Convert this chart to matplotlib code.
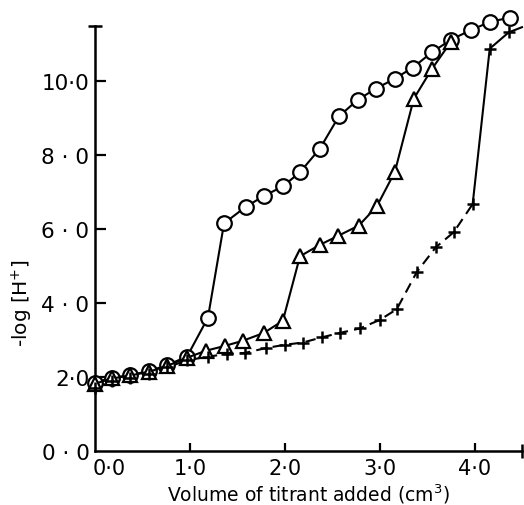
import matplotlib.pyplot as plt
from matplotlib.transforms import ScaledTranslation

# volume of titrant (cm3) against -log[H+]
vol_circ = [0.0, 0.18, 0.37, 0.57, 0.76, 0.97, 1.19, 1.36, 1.59, 1.78, 1.98, 2.16,
            2.37, 2.57, 2.77, 2.96, 3.16, 3.35, 3.55, 3.75, 3.96, 4.16, 4.37]
ph_circ = [1.85, 1.98, 2.05, 2.16, 2.32, 2.55, 3.6, 6.15, 6.6, 6.89, 7.15, 7.53,
           8.17, 9.04, 9.49, 9.79, 10.06, 10.36, 10.77, 11.11, 11.37, 11.59, 11.71]

vol_tri = [0.0, 0.18, 0.37, 0.57, 0.76, 0.97, 1.17, 1.37, 1.56, 1.78, 1.98, 2.16,
           2.37, 2.56, 2.78, 2.97, 3.16, 3.36, 3.55, 3.75]
ph_tri = [1.82, 1.96, 2.04, 2.14, 2.3, 2.52, 2.71, 2.84, 2.98, 3.19, 3.52, 5.26,
          5.57, 5.81, 6.09, 6.61, 7.54, 9.52, 10.32, 11.05]

vol_cross = [0.0, 0.18, 0.37, 0.57, 0.76, 0.97, 1.19, 1.39, 1.58, 1.8, 2.0, 2.19,
             2.39, 2.58, 2.79, 3.0, 3.18, 3.39, 3.59, 3.78, 3.98, 4.16, 4.36, 4.5]
ph_cross = [1.7, 1.9, 1.98, 2.08, 2.26, 2.45, 2.55, 2.62, 2.65, 2.78, 2.87, 2.93,
            3.07, 3.19, 3.31, 3.54, 3.83, 4.83, 5.5, 5.91, 6.67, 10.87, 11.31, 11.45]
n_cross_marks = 23   # the last entry is only where the line runs off the axis
jump_at = 20         # from here the + curve is drawn solid

xticks = [0, 1, 2, 3, 4]
xtick_labels = ["0·0", "1·0", "2·0", "3·0", "4·0"]
yticks = [0, 2, 4, 6, 8, 10]
ytick_labels = ["0 · 0", "2·0", "4 · 0", "6 · 0", "8 · 0", "10·0"]

fig = plt.figure(figsize=(5.24, 5.06), dpi=100)
ax = fig.add_axes([95 / 524, 54 / 506, 427 / 524, 425.3 / 506])

lw = 1.5
ax.plot(vol_circ, ph_circ, "-", color="black", lw=lw, marker="o", ms=10.5,
        mfc="white", mec="black", mew=1.6, zorder=3, clip_on=False)
ax.plot(vol_tri, ph_tri, "-", color="black", lw=lw, marker="^", ms=9.5,
        mfc="white", mec="black", mew=1.6, zorder=4, clip_on=False)
ax.plot(vol_cross[:jump_at + 1], ph_cross[:jump_at + 1], color="black", lw=lw,
        dashes=(5, 3), zorder=2, clip_on=False)
ax.plot(vol_cross[jump_at:], ph_cross[jump_at:], "-", color="black", lw=lw,
        zorder=2, clip_on=False)
ax.plot(vol_cross[:n_cross_marks], ph_cross[:n_cross_marks], ls="none", marker="+",
        ms=9, mew=1.8, color="black", zorder=5, clip_on=False)

ax.set_xlim(0, 4.5)
ax.set_ylim(0, 11.49)
for s in ["top", "right"]:
    ax.spines[s].set_visible(False)
for s in ["left", "bottom"]:
    ax.spines[s].set_linewidth(1.8)

# little end caps on the axes
ax.plot([0], [1], marker="_", ms=10, mew=1.8, color="black",
        transform=ax.transAxes, clip_on=False)
ax.plot([1], [0], marker="|", ms=10, mew=1.8, color="black",
        transform=ax.transAxes, clip_on=False)

ax.set_xticks(xticks)
ax.set_xticklabels(xtick_labels, fontsize=15)
ax.set_yticks(yticks)
ax.set_yticklabels(ytick_labels, fontsize=15.5)
ax.tick_params(axis="x", direction="in", length=6, width=1.6, pad=5)
ax.tick_params(axis="y", direction="in", length=8, width=1.6, pad=4)
ax.xaxis.get_major_ticks()[0].tick1line.set_visible(False)
ax.yaxis.get_major_ticks()[0].tick1line.set_visible(False)
lab0 = ax.get_xticklabels()[0]
lab0.set_transform(lab0.get_transform() + ScaledTranslation(0.14, 0, fig.dpi_scale_trans))

ax.set_xlabel("Volume of titrant added (cm$^3$)", fontsize=13.5)
ax.xaxis.set_label_coords(0.5, -0.072)
ax.set_ylabel("-log [H$^{+}$]", fontsize=14.5)
ax.yaxis.set_label_coords(-0.14, 0.35)

fig.savefig("out.png", dpi=100)
